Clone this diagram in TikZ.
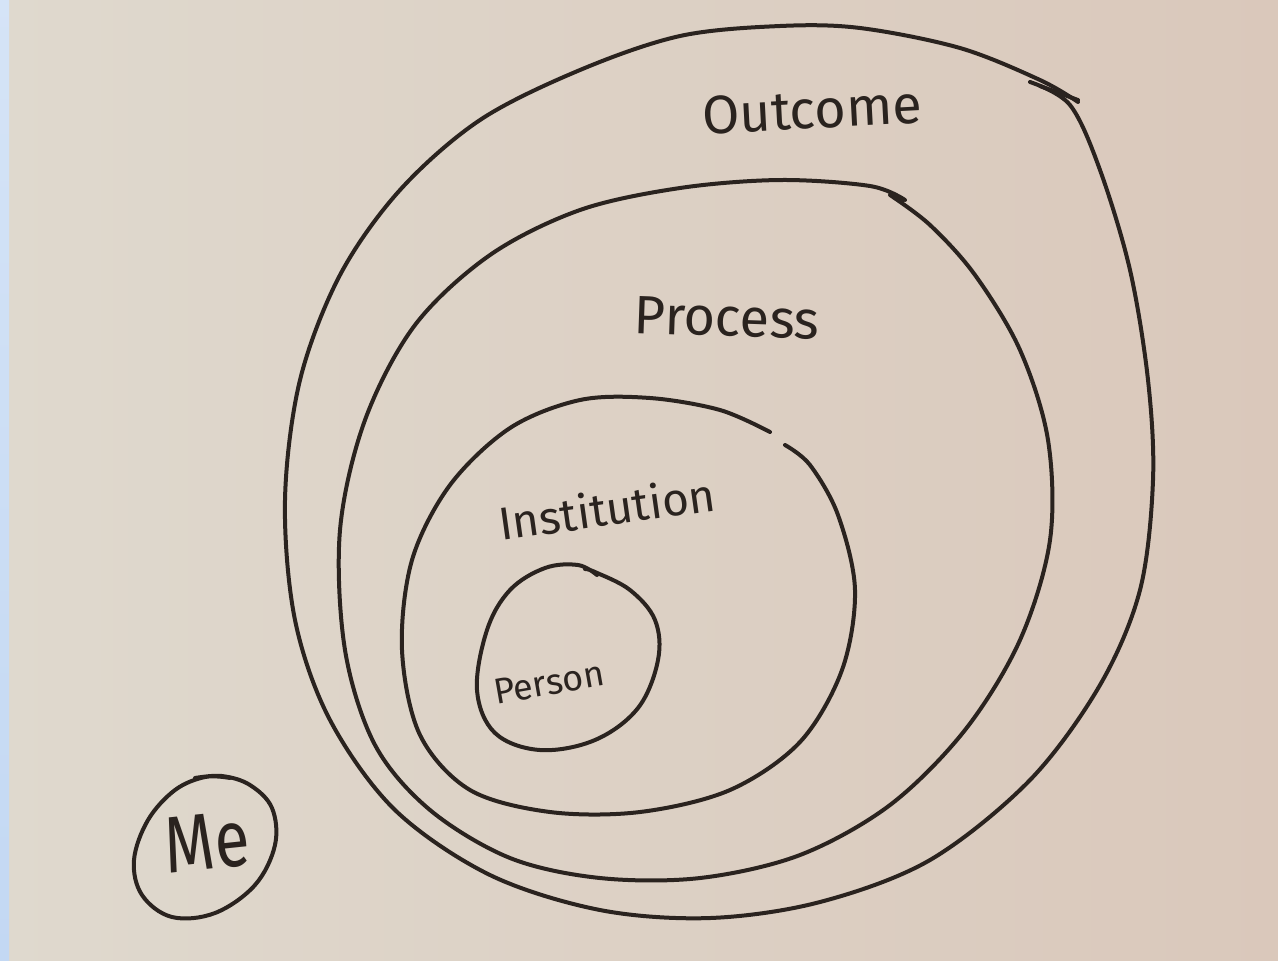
\documentclass[tikz,border=0pt]{standalone}
\usepackage{fontspec}
\setmainfont{Fira Sans}
\begin{document}
\begin{tikzpicture}[x=0.5pt,y=-0.5pt,
  ink/.style={draw=inkcol,line width=2pt,line cap=round,line join=round},
  hand/.style={text=inkcol,inner sep=0pt,font=\fontsize{#1}{#1}\selectfont},
]
\definecolor{inkcol}{HTML}{2A231F}
\definecolor{paperL}{HTML}{DFD9CE}
\definecolor{paperR}{HTML}{DAC8BB}
\definecolor{edgeblue}{HTML}{C3D8F3}
\useasboundingbox (0,0) rectangle (1278,960);
% paper sheet
\shade[left color=paperL,right color=paperR] (0,0) rectangle (1278,960);
% blue edge strip of the desk behind the sheet
\shade[top color=edgeblue!70!white,bottom color=edgeblue] (0,0) rectangle (9,960);

% Outcome loop
\draw[ink] plot[smooth,tension=0.55] coordinates {
  (1078,102) (1040,80) (960,48) (860,28) (780,26) (680,36) (580,70) (480,120)
  (400,190) (340,275) (300,380) (285,500) (295,620) (330,720) (395,810)
  (490,875) (600,910) (710,918) (820,902) (930,860) (1030,780) (1100,685)
  (1140,590) (1153,480) (1148,380) (1130,270) (1100,170) (1070,105) (1030,82)};
\draw[ink] (1040,86) -- (1078,100);

% Process loop
\draw[ink] plot[smooth,tension=0.55] coordinates {
  (905,200) (870,186) (780,180) (680,188) (580,210) (490,255) (415,325)
  (365,420) (340,530) (345,650) (375,745) (430,810) (510,858) (600,878)
  (700,878) (800,855) (890,805) (965,730) (1020,640) (1050,540) (1048,440)
  (1020,350) (975,275) (930,225) (890,195)};

% Institution loop
\draw[ink] plot[smooth,tension=0.55] coordinates {
  (770,432) (720,410) (650,398) (580,400) (510,428) (450,485) (412,560)
  (402,650) (420,735) (470,790) (550,812) (640,812) (730,790) (800,742)
  (842,670) (855,590) (838,515) (810,465) (785,445)};

% Person loop
\draw[ink] plot[smooth,tension=0.6] coordinates {
  (597,575) (578,565) (545,568) (510,590) (487,630) (477,690) (495,733)
  (540,750) (595,740) (638,708) (658,660) (655,620) (630,590) (595,572) (585,569)};

% Me loop
\draw[ink] plot[smooth,tension=0.6] coordinates {
  (230,778) (205,777) (175,790) (148,820) (134,860) (142,895) (172,917)
  (215,913) (255,885) (275,845) (272,808) (250,785) (222,776) (195,778)};

% labels
\node[hand=27,rotate=3] (outcome) at (812,110) {Outcome};
\node[hand=27,rotate=-2] (process) at (727,318) {Process};
\node[hand=23,rotate=8] (institution) at (607,508) {Institution};
\node[hand=18,rotate=10] (person) at (549,683) {Person};
\node[hand=40,rotate=6,xscale=0.8] (me) at (207,842) {Me};
\end{tikzpicture}
\end{document}
